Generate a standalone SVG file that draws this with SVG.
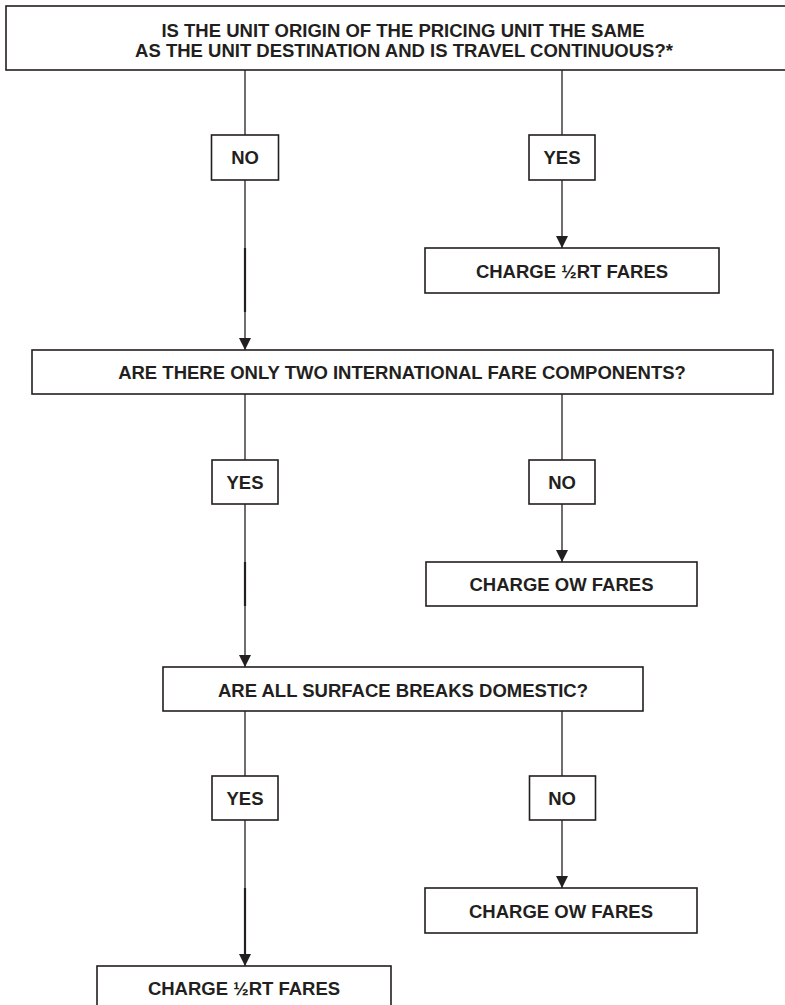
<svg xmlns="http://www.w3.org/2000/svg" width="785" height="1005" viewBox="0 0 785 1005">
<defs>
<style>
.box{fill:#ffffff;stroke:#231f20;stroke-width:1.6}
.t{font-family:"Liberation Sans",Arial,Helvetica,sans-serif;font-weight:bold;font-size:18.5px;fill:#231f20;text-anchor:middle}
.ln{stroke:#231f20;stroke-width:1.3;fill:none}
.thk{stroke:#231f20;stroke-width:2.2;fill:none}
</style>
<marker id="ah" viewBox="0 0 12 12" refX="12" refY="6" markerWidth="12" markerHeight="12" markerUnits="userSpaceOnUse" orient="auto">
<path d="M0,0 L12,6 L0,12 Z" fill="#231f20"/>
</marker>
</defs>
<rect width="785" height="1005" fill="#ffffff"/>
<g id="connectors">
<line class="ln" x1="245" y1="70" x2="245" y2="135"/>
<line class="ln" x1="562" y1="70" x2="562" y2="135"/>
<line class="ln" x1="245" y1="180" x2="245" y2="350" marker-end="url(#ah)"/>
<line class="thk" x1="245" y1="248" x2="245" y2="312"/>
<line class="ln" x1="562" y1="180" x2="562" y2="248" marker-end="url(#ah)"/>
<line class="ln" x1="245" y1="394" x2="245" y2="460"/>
<line class="ln" x1="562" y1="394" x2="562" y2="460"/>
<line class="ln" x1="245" y1="504" x2="245" y2="667" marker-end="url(#ah)"/>
<line class="thk" x1="245" y1="562" x2="245" y2="606"/>
<line class="ln" x1="562" y1="504" x2="562" y2="562" marker-end="url(#ah)"/>
<line class="ln" x1="245" y1="711" x2="245" y2="776"/>
<line class="ln" x1="562" y1="711" x2="562" y2="776"/>
<line class="ln" x1="245" y1="820" x2="245" y2="966" marker-end="url(#ah)"/>
<line class="thk" x1="245" y1="888" x2="245" y2="955"/>
<line class="ln" x1="562" y1="820" x2="562" y2="888" marker-end="url(#ah)"/>
</g>
<g id="q1">
<rect class="box" x="6" y="6" width="800" height="64"/>
<text class="t" x="403" y="37">IS THE UNIT ORIGIN OF THE PRICING UNIT THE SAME</text>
<text class="t" x="404" y="57">AS THE UNIT DESTINATION AND IS TRAVEL CONTINUOUS?*</text>
</g>
<g id="q1-no">
<rect class="box" x="211.5" y="135" width="67" height="45"/>
<text class="t" x="245" y="164">NO</text>
</g>
<g id="q1-yes">
<rect class="box" x="529" y="135" width="66" height="45"/>
<text class="t" x="562" y="164">YES</text>
</g>
<g id="r1">
<rect class="box" x="425" y="248" width="294" height="45"/>
<text class="t" x="572" y="278">CHARGE ½RT FARES</text>
</g>
<g id="q2">
<rect class="box" x="32" y="350" width="741" height="44"/>
<text class="t" x="402" y="379">ARE THERE ONLY TWO INTERNATIONAL FARE COMPONENTS?</text>
</g>
<g id="q2-yes">
<rect class="box" x="212" y="460" width="66" height="44"/>
<text class="t" x="245" y="489">YES</text>
</g>
<g id="q2-no">
<rect class="box" x="529" y="460" width="66" height="44"/>
<text class="t" x="562" y="489">NO</text>
</g>
<g id="r2">
<rect class="box" x="426" y="562" width="271" height="44"/>
<text class="t" x="561.5" y="591">CHARGE OW FARES</text>
</g>
<g id="q3">
<rect class="box" x="163" y="667" width="480" height="44"/>
<text class="t" x="403" y="697">ARE ALL SURFACE BREAKS DOMESTIC?</text>
</g>
<g id="q3-yes">
<rect class="box" x="212" y="776" width="66" height="44"/>
<text class="t" x="245" y="805">YES</text>
</g>
<g id="q3-no">
<rect class="box" x="529.5" y="776" width="66" height="44"/>
<text class="t" x="562" y="805">NO</text>
</g>
<g id="r3">
<rect class="box" x="425" y="888" width="272" height="45"/>
<text class="t" x="561" y="918">CHARGE OW FARES</text>
</g>
<g id="r4">
<rect class="box" x="97" y="966" width="294" height="50"/>
<text class="t" x="244" y="995">CHARGE ½RT FARES</text>
</g>
</svg>
